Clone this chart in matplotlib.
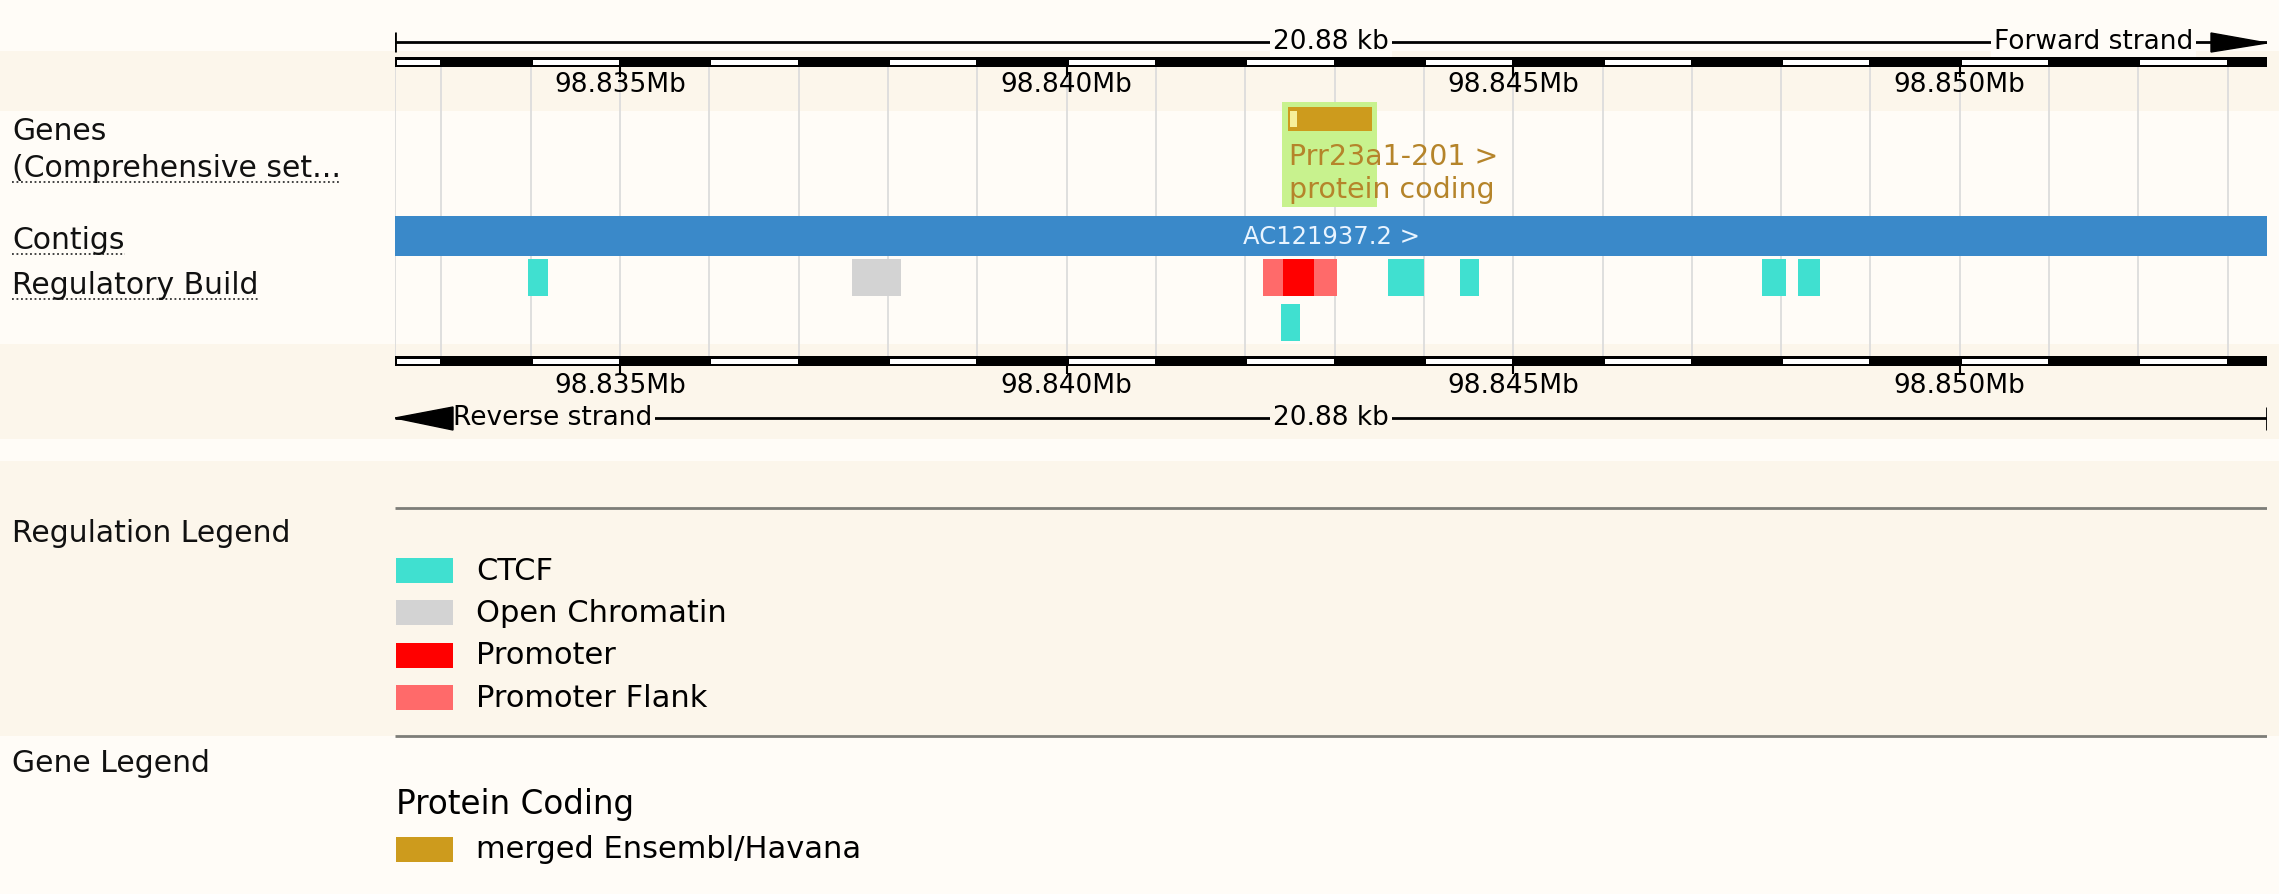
import numpy as np
import matplotlib.pyplot as plt

W, H = 2279, 895

# region shown (Mb)
start_mb = 98.83248
end_mb = 98.85344
span_label = "20.88 kb"
major_ticks = [98.835, 98.840, 98.845, 98.850]
major_labels = ["98.835Mb", "98.840Mb", "98.845Mb", "98.850Mb"]

# gene track
gene_name = "Prr23a1-201 >"
gene_biotype = "protein coding"
gene_start, gene_end = 98.84248, 98.84342
utr_start, utr_end = 98.84250, 98.84258
hl_start, hl_end = 98.84241, 98.84348

# contig track
contig_name = "AC121937.2 >"

# regulatory build features
reg_types = ["CTCF", "Open Chromatin", "Promoter Flank", "Promoter", "CTCF",
             "CTCF", "CTCF", "CTCF", "CTCF"]
reg_starts = [98.83397, 98.83760, 98.84220, 98.84242, 98.84240,
              98.84360, 98.84440, 98.84779, 98.84819]
reg_ends = [98.83419, 98.83814, 98.84303, 98.84277, 98.84261,
            98.84400, 98.84462, 98.84805, 98.84843]
reg_rows = [0, 0, 0, 0, 1, 0, 0, 0, 0]

legend_labels = ["CTCF", "Open Chromatin", "Promoter", "Promoter Flank"]
legend_colors = ["#40e0d0", "#d3d3d3", "#ff0000", "#ff6a6a"]
reg_colors = dict(zip(legend_labels, legend_colors))
gene_legend_title = "Protein Coding"
gene_legend_label = "merged Ensembl/Havana"
gene_color = "#cd9b1d"

track_labels = ["Genes", "(Comprehensive set...", "Contigs", "Regulatory Build"]

light = "#fffcf7"
cream = "#fcf6eb"
FONT = "DejaVu Sans"

fig = plt.figure(figsize=(W / 100, H / 100), dpi=100, facecolor=light)

# background axes in pixel units
bg = fig.add_axes([0, 0, 1, 1])
bg.set_xlim(0, W)
bg.set_ylim(H, 0)
bg.axis("off")
for a, b in [(52, 112), (345, 440), (462, 737)]:
    bg.axhspan(a, b, color=cream, lw=0)

# track axes: x in Mb, y in pixels
x0, x1 = 395, 2267
ax = fig.add_axes([x0 / W, 0, (x1 - x0) / W, 1])
ax.set_xlim(start_mb, end_mb)
ax.set_ylim(H, 0)
ax.axis("off")
ax.patch.set_alpha(0)
px = (end_mb - start_mb) / (x1 - x0)

kb = np.arange(np.ceil(start_mb * 1000), np.floor(end_mb * 1000) + 1) / 1000

# grid lines
ax.vlines(np.concatenate([[start_mb], kb]), 68, 357, color="#dcdcdc", lw=1.3, zorder=1)


def ruler_bar(y):
    ax.broken_barh([(start_mb, end_mb - start_mb)], (y, 10), facecolor="black", zorder=3)
    edges = np.concatenate([[start_mb], kb, [end_mb]])
    white = []
    for a, b in zip(edges[:-1], edges[1:]):
        if int(round(np.floor(a * 1000 + 1e-6))) % 2 == 0:
            white.append((a + 2 * px, b - a - 3 * px))
    ax.broken_barh(white, (y + 2.5, 5), facecolor="white", zorder=4)


# top ruler
ruler_bar(58)
ax.hlines(43, start_mb, end_mb, color="black", lw=2, zorder=3)
ax.vlines(start_mb, 33, 53, color="black", lw=2, zorder=3)
ax.text((start_mb + end_mb) / 2, 42, span_label, ha="center", va="center", size=19,
        family=FONT, zorder=5, bbox=dict(facecolor=light, edgecolor="none", pad=2))
ax.text(end_mb - 74 * px, 42, "Forward strand", ha="right", va="center", size=19,
        family=FONT, zorder=5, bbox=dict(facecolor=light, edgecolor="none", pad=2))
ax.fill([end_mb - 56 * px, end_mb, end_mb - 56 * px], [34, 44, 53], color="black", zorder=6)
ax.vlines(major_ticks, 68, 78, color="black", lw=1.5, zorder=3)
for t, lab in zip(major_ticks, major_labels):
    ax.text(t, 85, lab, ha="center", va="center", size=19, family=FONT, zorder=5)

# bottom ruler
ruler_bar(357)
ax.vlines(major_ticks, 367, 375, color="black", lw=1.5, zorder=3)
for t, lab in zip(major_ticks, major_labels):
    ax.text(t, 386, lab, ha="center", va="center", size=19, family=FONT, zorder=5)
ax.hlines(419, start_mb, end_mb, color="black", lw=2, zorder=3)
ax.vlines(end_mb, 408, 431, color="black", lw=2, zorder=3)
ax.fill([start_mb, start_mb + 58 * px, start_mb + 58 * px], [419, 408, 431], color="black", zorder=6)
ax.text(start_mb + 58 * px, 418, "Reverse strand", ha="left", va="center", size=19,
        family=FONT, zorder=5, bbox=dict(facecolor=cream, edgecolor="none", pad=2))
ax.text((start_mb + end_mb) / 2, 418, span_label, ha="center", va="center", size=19,
        family=FONT, zorder=5, bbox=dict(facecolor=cream, edgecolor="none", pad=2))

# gene track
ax.broken_barh([(hl_start, hl_end - hl_start)], (103, 105), facecolor="#c8f28e", zorder=2)
ax.broken_barh([(gene_start, gene_end - gene_start)], (108, 24), facecolor=gene_color, zorder=3)
ax.broken_barh([(utr_start, utr_end - utr_start)], (112, 16), facecolor="#f7ef9a", zorder=4)
ax.text(gene_start + px, 157, gene_name, ha="left", va="center", size=20.5, color="#b5842a",
        family=FONT, zorder=5)
ax.text(gene_start + px, 190, gene_biotype, ha="left", va="center", size=20.5, color="#b5842a",
        family=FONT, zorder=5)

# contig track
ax.broken_barh([(start_mb, end_mb - start_mb)], (217, 40), facecolor="#3a89c9", zorder=3)
ax.text((start_mb + end_mb) / 2, 237, contig_name, ha="center", va="center", size=17.5,
        color="#e8f4ff", family=FONT, zorder=5)

# regulatory build
for t, s, e, r in zip(reg_types, reg_starts, reg_ends, reg_rows):
    ax.broken_barh([(s, e - s)], (260 + 45 * r, 37), facecolor=reg_colors[t], zorder=3)

# legends
ax.hlines([509, 737], start_mb, end_mb, color="#7d7d78", lw=2, zorder=3)
for i, (lab, col) in enumerate(zip(legend_labels, legend_colors)):
    yc = 571 + 42.5 * i
    ax.broken_barh([(start_mb + px, 57 * px)], (yc - 12.5, 25), facecolor=col, zorder=3)
    ax.text(start_mb + 81 * px, yc, lab, ha="left", va="center", size=22, family=FONT)
ax.text(start_mb + px, 805, gene_legend_title, ha="left", va="center", size=23.5, family=FONT)
ax.broken_barh([(start_mb + px, 57 * px)], (838, 25), facecolor=gene_color, zorder=3)
ax.text(start_mb + 81 * px, 850, gene_legend_label, ha="left", va="center", size=22, family=FONT)

# left labels
label_y = [131, 168, 240, 285]
texts = []
for lab, y in zip(track_labels, label_y):
    texts.append(bg.text(12, y, lab, ha="left", va="center", size=21.5, family=FONT, color="#111111"))
bg.text(12, 533, "Regulation Legend", ha="left", va="center", size=21.5, family=FONT, color="#111111")
bg.text(12, 764, "Gene Legend", ha="left", va="center", size=21.5, family=FONT, color="#111111")

# dotted underlines for the clickable labels
fig.canvas.draw()
r = fig.canvas.get_renderer()
for t, y in zip(texts[1:], label_y[1:]):
    bb = t.get_window_extent(renderer=r)
    bg.hlines(y + 15, bb.x0, bb.x1, color="#333333", lw=1.3, linestyles=(0, (1, 1.5)))

fig.savefig("out.png", dpi=100, facecolor=light)
